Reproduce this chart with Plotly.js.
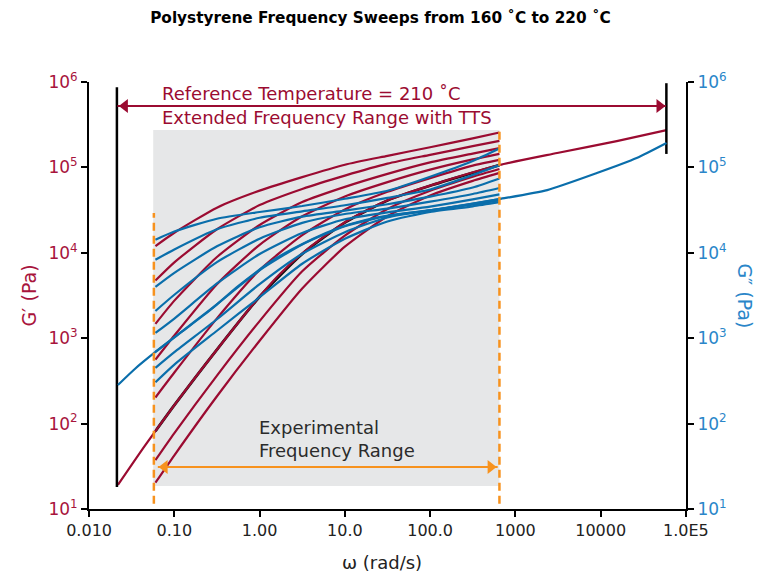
<!DOCTYPE html>
<html>
<head>
<meta charset="utf-8">
<script src="https://cdn.plot.ly/plotly-3.0.1.min.js"></script>
<style>html,body{margin:0;padding:0;background:#fff;}#chart{width:761px;height:578px;}</style>
</head>
<body>
<div id="chart"></div>
<script>
// ---------- DATA ----------
// angular frequency grid of the individual (experimental) sweeps, rad/s
const omegaExp = [0.06, 0.1, 0.316, 1, 3.16, 10, 31.6, 100, 316, 650];

// G' (Pa) of the individual sweeps, lowest temperature first
const gp1 = [12000, 17200, 33800, 53500, 77100, 107700, 136800, 172600, 218800, 256400];
const gp2 = [4730, 7730, 18900, 36200, 56000, 80200, 110700, 140600, 177400, 205100];
const gp3 = [1469, 2754, 8930, 21200, 39300, 59200, 84100, 114600, 145500, 168300];
const gp4 = [561, 1076, 4290, 12400, 26800, 45700, 67300, 94200, 124200, 144200];
const gp5 = [202, 396, 1706, 6280, 16100, 32200, 51800, 75000, 105000, 122500];
const gpRef = [81.3, 164, 736, 3055, 9700, 22600, 41100, 61100, 86300, 106700]; // 210 C sweep (black)
const gp7 = [37.3, 77.3, 365, 1585, 6070, 15900, 32600, 53300, 77800, 95900];
const gp8 = [20.3, 42.5, 209, 933, 3820, 11800, 26800, 47000, 69700, 86300];

// G'' (Pa) of the individual sweeps
const gpp1 = [14260, 17780, 25100, 30060, 35320, 42950, 53330, 77800, 118900, 166300];
const gpp2 = [8300, 10940, 18840, 25760, 30620, 36060, 44060, 55080, 81470, 106400];
const gpp3 = [3990, 5830, 11910, 19950, 26550, 31190, 37070, 45500, 58210, 74300];
const gpp4 = [2084, 3228, 7780, 14620, 22440, 28510, 32960, 39720, 48870, 57410];
const gpp5 = [1151, 1698, 4375, 9683, 17100, 24720, 29790, 34830, 42270, 48310];
const gppRef = [689, 1021, 2495, 6237, 12500, 20510, 26980, 31550, 37670, 42660];
const gpp7 = [449, 686, 1667, 4295, 9750, 17460, 25940, 31480, 36730, 41210];
const gpp8 = [304, 490, 1222, 3020, 7450, 14590, 23280, 30200, 35080, 39170];

// TTS master curves at 210 C
const omegaMasterGp = [0.0218, 0.045, 0.1005, 0.197, 0.44, 0.861, 1.683, 3.767, 11.02, 32.21, 123.3, 650, 3090, 15450, 59160];
const gpMaster = [19.1, 54.7, 165.2, 401.8, 1119, 2582, 5495, 11380, 24210, 41500, 65610, 106700, 147600, 203700, 274200];
const omegaMasterGpp = [0.0218, 0.0344, 0.0621, 0.1213, 0.2642, 0.560, 1.510, 4.188, 8.414, 17.38, 42.17, 104.9, 254.7, 650.1, 2360, 9036, 26420, 59160];
const gppMaster = [283, 436, 708, 1183, 2138, 4074, 8453, 14520, 19500, 24210, 28440, 31700, 36310, 42660, 54330, 85900, 128800, 193200];

// axis ticks
const xTickVals = [0.01, 0.1, 1, 10, 100, 1000, 10000, 100000];
const xTickText = ['0.010', '0.10', '1.00', '10.0', '100.0', '1000', '10000', '1.0E5'];
const yTickVals = [10, 100, 1000, 10000, 100000, 1000000];
const yTickText = ['10<sup>1</sup>', '10<sup>2</sup>', '10<sup>3</sup>', '10<sup>4</sup>', '10<sup>5</sup>', '10<sup>6</sup>'];

// ---------- STYLE ----------
const RED = '#9b0b31', BLUE = '#0a6eab', ORANGE = '#f7921e', GREY = '#e6e7e8';
const RED_TXT = '#a8143c', BLUE_TXT = '#2a86c9';
const FONT = 'DejaVu Sans, Liberation Sans, sans-serif';
const L = Math.log10;

function curve(x, y, color, width, yaxis) {
  return {x: x, y: y, type: 'scatter', mode: 'lines', yaxis: yaxis || 'y',
          line: {color: color, width: width, shape: 'spline', smoothing: 0.6},
          hoverinfo: 'skip', showlegend: false};
}
function seg(x, y, color, width, dash, yaxis) {
  return {x: x, y: y, type: 'scatter', mode: 'lines', yaxis: yaxis || 'y',
          line: {color: color, width: width, dash: dash || 'solid'},
          hoverinfo: 'skip', showlegend: false};
}
function arrow(x0, x1, y, xh0, xh1, color) {
  return [
    seg([x0, x1], [y, y], color, 2, 'solid', 'y2'),
    {x: [xh0, xh1], y: [y, y], type: 'scatter', mode: 'markers', yaxis: 'y2',
     marker: {symbol: ['triangle-left', 'triangle-right'], size: 12, color: color, line: {width: 0}},
     hoverinfo: 'skip', showlegend: false}
  ];
}

const traces = [];
// experimental window (grey box)
traces.push({x: [0.0565, 650, 650, 0.0565, 0.0565], y: [18.6, 18.6, 274000, 274000, 18.6],
             type: 'scatter', mode: 'lines', fill: 'toself', fillcolor: GREY,
             line: {width: 0, color: GREY}, hoverinfo: 'skip', showlegend: false});
// G' sweeps
[gp1, gp2, gp3, gp4, gp5, gp7, gp8].forEach(g => traces.push(curve(omegaExp, g, RED, 2.2)));
traces.push(curve(omegaExp, gpRef, '#111111', 2.8));
traces.push(curve(omegaMasterGp, gpMaster, RED, 2.2));
// black range limits
traces.push(seg([0.0212, 0.0212], [18, 870000], '#000', 2.5));
traces.push(seg([59000, 59000], [144000, 970000], '#000', 2.5));
// G'' sweeps on right axis
[gpp1, gpp2, gpp3, gpp4, gpp5, gppRef, gpp7, gpp8].forEach(g => traces.push(curve(omegaExp, g, BLUE, 2.2, 'y2')));
traces.push(curve(omegaMasterGpp, gppMaster, BLUE, 2.2, 'y2'));
// orange dashed experimental limits
traces.push(seg([0.0575, 0.0575], [11.5, 29200], ORANGE, 2.5, '8px,5px', 'y2'));
traces.push(seg([650, 650], [11.5, 300000], ORANGE, 2.5, '8px,5px', 'y2'));
// double-headed arrows
arrow(0.0215, 58000, 525000, 0.0263, 48980, RED).forEach(t => traces.push(t));
arrow(0.064, 620, 31, 0.0769, 512, ORANGE).forEach(t => traces.push(t));

const annotations = [
  {x: -1.172, y: 5.871, xref: 'x', yref: 'y', xanchor: 'left', yanchor: 'middle', showarrow: false,
   text: 'Reference Temperature = 210 ˚C', font: {family: FONT, size: 18, color: RED}},
  {x: -1.172, y: 5.590, xref: 'x', yref: 'y', xanchor: 'left', yanchor: 'middle', showarrow: false,
   text: 'Extended Frequency Range with TTS', font: {family: FONT, size: 18, color: RED}},
  {x: -0.030, y: 1.820, xref: 'x', yref: 'y', xanchor: 'left', yanchor: 'middle', align: 'left', showarrow: false,
   text: 'Experimental<br>Frequency Range', font: {family: FONT, size: 18, color: '#2b2b2b'}},
  // axis titles
  {x: -0.102, y: 0.5, xref: 'paper', yref: 'paper', xanchor: 'center', yanchor: 'middle', showarrow: false,
   textangle: -90, text: 'G′ (Pa)', font: {family: FONT, size: 19, color: RED_TXT}},
  {x: 1.099, y: 0.5, xref: 'paper', yref: 'paper', xanchor: 'center', yanchor: 'middle', showarrow: false,
   textangle: 90, text: 'G″ (Pa)', font: {family: FONT, size: 19, color: BLUE_TXT}},
  {x: 0.49, y: -0.125, xref: 'paper', yref: 'paper', xanchor: 'center', yanchor: 'middle', showarrow: false,
   text: 'ω (rad/s)', font: {family: FONT, size: 18, color: '#222'}}
];

const yCommon = {type: 'log', range: [0.999, 6.001], tickmode: 'array', tickvals: yTickVals, ticktext: yTickText,
  ticks: 'outside', ticklen: 6, tickwidth: 2, tickcolor: '#000', showline: true, linecolor: '#000', linewidth: 2,
  showgrid: false, zeroline: false, fixedrange: true};

const layout = {
  width: 761, height: 578,
  margin: {l: 89, r: 75, t: 82, b: 69},
  paper_bgcolor: '#fff', plot_bgcolor: '#fff',
  showlegend: false, hovermode: false,
  title: {text: '<b>Polystyrene Frequency Sweeps from 160 ˚C to 220 ˚C</b>', x: 0.5, xref: 'container',
          y: 0.97, yanchor: 'middle', font: {family: FONT, size: 15.3, color: '#000'}},
  xaxis: {type: 'log', range: [-2.001, 5.001], tickmode: 'array', tickvals: xTickVals, ticktext: xTickText,
    ticks: 'outside', ticklen: 6, tickwidth: 2, tickcolor: '#000', showline: true, linecolor: '#000', linewidth: 2,
    showgrid: false, zeroline: false, tickfont: {family: FONT, size: 16, color: '#222'}, fixedrange: true},
  yaxis: Object.assign({}, yCommon, {side: 'left', tickfont: {family: FONT, size: 17, color: RED_TXT}}),
  yaxis2: Object.assign({}, yCommon, {side: 'right', overlaying: 'y', tickfont: {family: FONT, size: 17, color: BLUE_TXT}}),
  annotations: annotations
};

Plotly.newPlot('chart', traces, layout, {displayModeBar: false, staticPlot: true});
</script>
</body>
</html>
